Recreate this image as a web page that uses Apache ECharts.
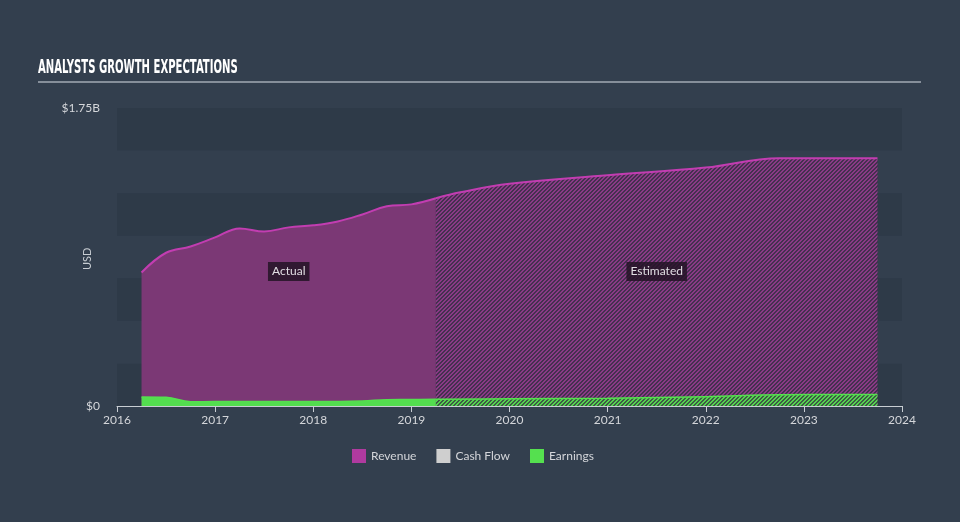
<!DOCTYPE html>
<html>
<head>
<meta charset="utf-8">
<script src="https://cdn.jsdelivr.net/npm/echarts@6/dist/echarts.min.js"></script>
<style>
html,body{margin:0;padding:0;background:#333f4e;}
#chart{width:960px;height:522px;}
</style>
</head>
<body>
<div id="chart"></div>
<script>
// Data (x in decimal years, values in USD)
const revenueActualX = [2016.25, 2016.5, 2016.75, 2017.0, 2017.25, 2017.5, 2017.75, 2018.0, 2018.25, 2018.5, 2018.75, 2019.0, 2019.25];
const revenueActual  = [0.784e9, 0.90e9, 0.937e9, 0.99e9, 1.043e9, 1.025e9, 1.049e9, 1.061e9, 1.084e9, 1.125e9, 1.173e9, 1.184e9, 1.22e9];
const revenueEstX = [2019.25, 2019.5, 2020.0, 2021.0, 2022.0, 2022.75, 2023.75];
const revenueEst  = [1.22e9, 1.255e9, 1.305e9, 1.355e9, 1.40e9, 1.455e9, 1.455e9];
const earningsActualX = [2016.25, 2016.5, 2016.75, 2017.0, 2017.5, 2018.0, 2018.5, 2018.75, 2019.0, 2019.25];
const earningsActual  = [0.053e9, 0.051e9, 0.025e9, 0.026e9, 0.027e9, 0.027e9, 0.03e9, 0.037e9, 0.038e9, 0.04e9];
const earningsEstX = [2019.25, 2020.0, 2021.0, 2022.0, 2022.75, 2023.75];
const earningsEst  = [0.04e9, 0.042e9, 0.046e9, 0.055e9, 0.066e9, 0.068e9];
const cashFlow = [];
const yearTicks = [2016, 2017, 2018, 2019, 2020, 2021, 2022, 2023, 2024];
const yMax = 1.75e9;
const labelY = 0.79e9;

function hatch(bg, fg, n, w) {
  const c = document.createElement('canvas');
  c.width = n; c.height = n;
  const ctx = c.getContext('2d');
  const img = ctx.createImageData(n, n);
  const p = (h) => [parseInt(h.slice(1,3),16), parseInt(h.slice(3,5),16), parseInt(h.slice(5,7),16)];
  const b = p(bg), f = p(fg);
  for (let y = 0; y < n; y++) for (let x = 0; x < n; x++) {
    const col = ((x + y) % n) < w ? f : b;
    const i = (y * n + x) * 4;
    img.data[i] = col[0]; img.data[i+1] = col[1]; img.data[i+2] = col[2]; img.data[i+3] = 255;
  }
  ctx.putImageData(img, 0, 0);
  return c;
}
const purpleHatch = hatch('#44304f', '#8a3a86', 4, 2);
const greenHatch = hatch('#3d5a45', '#55d34f', 4, 2);

const pair = (xs, ys) => xs.map((x, i) => [x, ys[i]]);

const chart = echarts.init(document.getElementById('chart'));
chart.setOption({
  backgroundColor: '#333f4e',
  animation: false,
  graphic: [
    { type: 'text', x: 38, y: 59, scaleX: 0.59, originX: 0,
      style: { text: 'ANALYSTS GROWTH EXPECTATIONS', fill: '#ffffff', font: 'bold 19px "Liberation Sans Narrow", "DejaVu Sans Condensed", sans-serif' } },
    { type: 'line', shape: { x1: 38, y1: 82, x2: 921, y2: 82 }, style: { stroke: '#a3abb5', lineWidth: 1.5 } },
    { type: 'text', x: 82, y: 270, rotation: Math.PI / 2,
      style: { text: 'USD', fill: '#c8cdd3', font: '11px Lato' } }
  ],
  legend: {
    data: [
      { name: 'Revenue', itemStyle: { color: '#b03a9f' } },
      { name: 'Cash Flow', itemStyle: { color: '#cfcfcf' } },
      { name: 'Earnings', itemStyle: { color: '#55e04f' } }
    ],
    left: 347, top: 444, icon: 'rect', itemWidth: 14, itemHeight: 14, itemGap: 20,
    textStyle: { color: '#d4d6da', fontSize: 12, fontFamily: 'Lato' }
  },
  grid: { left: 117, right: 58, top: 108, bottom: 116, containLabel: false },
  xAxis: {
    type: 'value', min: yearTicks[0], max: yearTicks[yearTicks.length - 1], interval: 1,
    axisLine: { lineStyle: { color: '#c8cdd3', width: 1 } },
    axisTick: { show: true, length: 6, lineStyle: { color: '#c8cdd3' } },
    axisLabel: { color: '#d4d6da', fontSize: 12, fontFamily: 'Lato', margin: 8, formatter: v => String(v) },
    splitLine: { show: false }
  },
  yAxis: {
    type: 'value', min: 0, max: yMax, interval: 0.25e9,
    axisLine: { show: false }, axisTick: { show: false },
    axisLabel: { color: '#d4d6da', fontSize: 12, fontFamily: 'Lato', margin: 17,
      formatter: v => v === 0 ? '$0' : (v === yMax ? '$1.75B' : '') },
    splitLine: { show: false },
    splitArea: { show: true, areaStyle: { color: ['#2e3a48', '#333f4e'] } }
  },
  series: [
    { name: 'Revenue', type: 'line', data: pair(revenueActualX, revenueActual), smooth: 0.4, symbol: 'none', z: 2,
      lineStyle: { color: '#c23db1', width: 2 }, areaStyle: { color: '#7b3875', opacity: 1 },
      markPoint: { symbol: 'rect', symbolSize: 0, silent: true,
        data: [{ coord: [(revenueActualX[0] + revenueActualX[revenueActualX.length - 1]) / 2, labelY],
          label: { show: true, formatter: 'Actual', position: 'inside', color: '#e0dde2', fontSize: 12, fontFamily: 'Lato',
            backgroundColor: 'rgba(35,20,38,0.85)', padding: [4, 4, 3, 4] } }] } },
    { name: 'Revenue', type: 'line', data: pair(revenueEstX, revenueEst), smooth: 0.4, symbol: 'none', z: 2,
      lineStyle: { color: '#c23db1', width: 2 }, areaStyle: { color: { image: purpleHatch, repeat: 'repeat' }, opacity: 1 },
      markPoint: { symbol: 'rect', symbolSize: 0, silent: true,
        data: [{ coord: [(revenueEstX[0] + revenueEstX[revenueEstX.length - 1]) / 2, labelY],
          label: { show: true, formatter: 'Estimated', position: 'inside', color: '#e0dde2', fontSize: 12, fontFamily: 'Lato',
            backgroundColor: 'rgba(35,20,38,0.85)', padding: [4, 4, 3, 4] } }] } },
    { name: 'Cash Flow', type: 'line', data: cashFlow, symbol: 'none', lineStyle: { color: '#cfcfcf' } },
    { name: 'Earnings', type: 'line', data: pair(earningsActualX, earningsActual), smooth: 0.4, symbol: 'none', z: 3,
      lineStyle: { color: '#55e04f', width: 1.5 }, areaStyle: { color: '#53dd4f', opacity: 1 } },
    { name: 'Earnings', type: 'line', data: pair(earningsEstX, earningsEst), smooth: 0.4, symbol: 'none', z: 3,
      lineStyle: { color: '#55e04f', width: 1.5 }, areaStyle: { color: { image: greenHatch, repeat: 'repeat' }, opacity: 1 } }
  ]
});
</script>
</body>
</html>
